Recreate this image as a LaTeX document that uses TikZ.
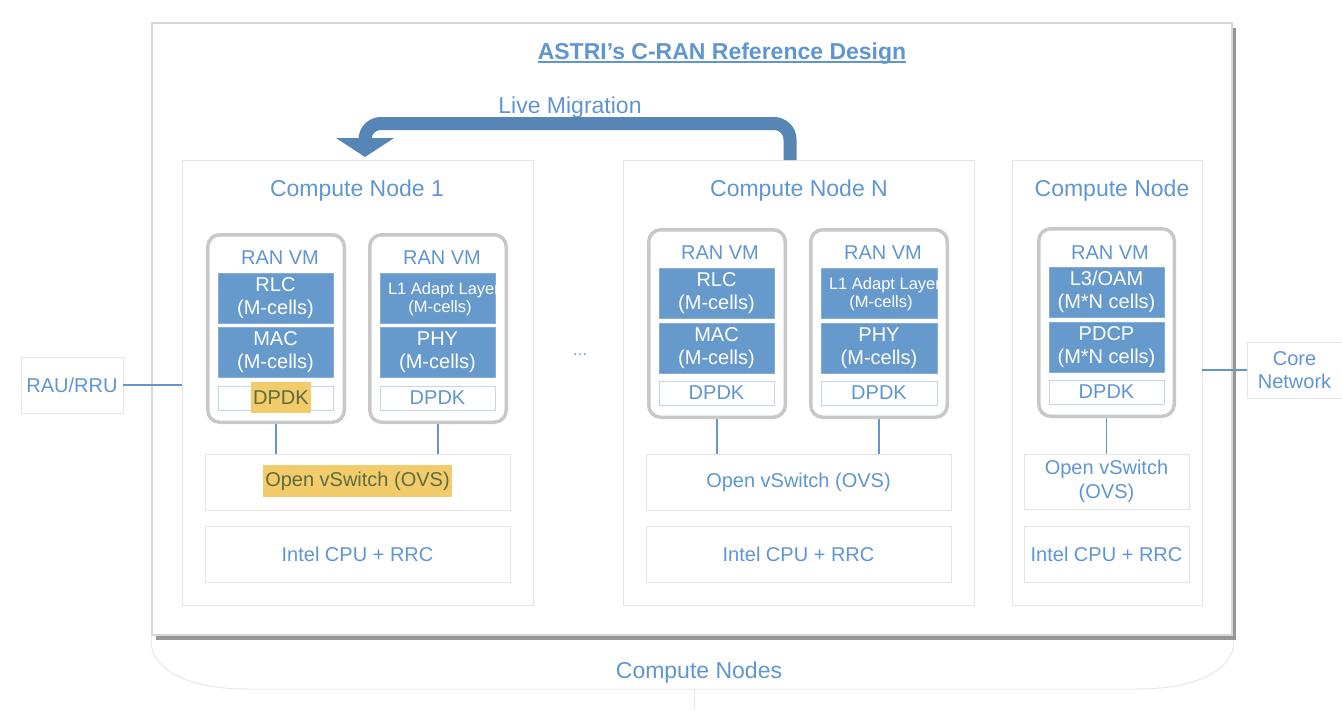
\documentclass[tikz,border=0pt]{standalone}
\usepackage{fontspec}
\setmainfont{Liberation Sans}
\definecolor{tblue}{RGB}{95,150,210}
\definecolor{lblue}{RGB}{102,153,204}
\definecolor{arrowblue}{RGB}{87,133,181}
\definecolor{ngray}{RGB}{228,228,228}
\definecolor{vgray}{RGB}{200,200,200}
\definecolor{dborder}{RGB}{195,212,235}
\definecolor{cblue}{RGB}{100,150,205}
\definecolor{hyellow}{RGB}{242,204,106}
\definecolor{holive}{RGB}{94,108,62}
\definecolor{fgray}{RGB}{215,215,215}
\definecolor{shadowgray}{RGB}{150,150,150}
\definecolor{curvegray}{RGB}{230,230,230}
\begin{document}
\begin{tikzpicture}[x=1pt,y=-1pt,
  every node/.style={inner sep=0pt, outer sep=0pt},
  fbig/.style={font=\fontsize{23}{27}\selectfont},
  fmid/.style={font=\fontsize{20}{23.5}\selectfont},
  fsmall/.style={font=\fontsize{16.5}{19.5}\selectfont},
  lbl/.style={text=tblue},
  nodebox/.style={draw=ngray, line width=1, fill=white, text=tblue, fmid},
  vmbox/.style={draw=vgray, line width=3.5, rounded corners=12, outer sep=1.75},
  layer/.style={fill=lblue, draw=lblue!80!white, line width=0.8, text=white, align=center, fmid, minimum width=115, minimum height=50},
  dpdk/.style={draw=dborder, line width=1, fill=white, text=tblue, fmid, minimum width=115, minimum height=24},
  conn/.style={draw=cblue, line width=1.5},
  hl/.style={fill=hyellow, text=holive, fmid}
]
\useasboundingbox (0,0) rectangle (1342,710);

% bottom curved group shape
\draw[curvegray, line width=1] (151,636) -- (151,641) .. controls (151,670) and (190,689) .. (246,689) -- (1138,689) .. controls (1196,689) and (1234,670) .. (1234,641);
\coordinate (grpS) at (694,689);
\coordinate (grpE) at (694,710);
\draw[curvegray, line width=1] (grpS) -- (grpE);
\node[lbl, fbig, anchor=base] (cnodes) at (699,678) {Compute Nodes};

% outer frame with shadow
\fill[shadowgray] (156,28) rectangle (1236,640);
\node[draw=fgray, line width=1.2, fill=white, minimum width=1080, minimum height=612] (frame) at (692,329) {};

% title
\node[lbl, font=\fontsize{23}{27}\selectfont\bfseries, anchor=base] (title) at (722,59) {ASTRI’s C-RAN Reference Design};
\draw[tblue, line width=1.5] ([yshift=-3]title.base west) -- ([yshift=-3]title.base east);

\node[lbl, fbig, anchor=base] (live) at (570,113) {Live Migration};

% compute node boxes
\node[nodebox, minimum width=351, minimum height=445] (cn1) at (357.5,382.5) {};
\node[nodebox, minimum width=351, minimum height=445] (cnN) at (798.5,382.5) {};
\node[nodebox, minimum width=190, minimum height=445] (cnR) at (1107,382.5) {};
\node[lbl, fbig, anchor=base] (t1) at (357,196) {Compute Node 1};
\node[lbl, fbig, anchor=base] (tN) at (799,196) {Compute Node N};
\node[lbl, fbig, anchor=base] (tR) at (1112,196) {Compute Node};

% live migration arrow
\coordinate (mA) at (790,160);
\coordinate (mB) at (790,123.5);
\coordinate (mC) at (365,123.5);
\coordinate (mD) at (365,139);
\draw[arrowblue, line width=13, rounded corners=16] (mA) -- (mB) -- (mC) -- (mD);
\fill[arrowblue] (336,138) -- (394,138) -- (365,157) -- cycle;

% ===== Compute Node 1 =====
\node[vmbox, minimum width=136.5, minimum height=187.5] (vm11) at (276,328.5) {};
\node[vmbox, minimum width=136.5, minimum height=187.5] (vm12) at (438,328.5) {};
\node[lbl, fmid, anchor=base] at (280,264) {RAN VM};
\node[lbl, fmid, anchor=base] at (442,264) {RAN VM};
\node[layer] (rlc1) at (275.5,298) {RLC\\(M-cells)};
\node[layer] (mac1) at (275.5,352) {MAC\\(M-cells)};
\node[dpdk] (dp11) at (275.5,398) {};
\node[hl, minimum width=60, minimum height=31] (hl11) at (281,397.5) {DPDK};
\node[layer] (l1a1) at (437.5,298) {};
\begin{scope}
\clip (380,273) rectangle (495,323);
\node[text=white, fsmall, anchor=base west] at (388,294) {L1 Adapt Layer};
\end{scope}
\node[text=white, fsmall] at (440,308) {(M-cells)};
\node[layer] (phy1) at (437.5,352) {PHY\\(M-cells)};
\node[dpdk] (dp12) at (437.5,398) {DPDK};
\node[nodebox, minimum width=305, minimum height=56] (ovs1) at (357.5,482) {};
\node[hl, minimum width=189, minimum height=32] (hlovs) at (357.5,481) {Open vSwitch (OVS)};
\node[nodebox, minimum width=305, minimum height=56] (cpu1) at (357.5,554) {Intel CPU + RRC};
\draw[conn] (vm11.south) -- (vm11.south |- ovs1.north);
\draw[conn] (vm12.south) -- (vm12.south |- ovs1.north);

% ===== Compute Node N =====
\node[vmbox, minimum width=136.5, minimum height=187.5] (vmN1) at (717,323.5) {};
\node[vmbox, minimum width=136.5, minimum height=187.5] (vmN2) at (879,323.5) {};
\node[lbl, fmid, anchor=base] at (720,259) {RAN VM};
\node[lbl, fmid, anchor=base] at (883,259) {RAN VM};
\node[layer] (rlcN) at (716.5,293) {RLC\\(M-cells)};
\node[layer] (macN) at (716.5,348) {MAC\\(M-cells)};
\node[dpdk] (dpN1) at (716.5,393) {DPDK};
\node[layer, minimum width=116] (l1aN) at (879,293) {};
\begin{scope}
\clip (821,268) rectangle (937,318);
\node[text=white, fsmall, anchor=base west] at (829,289) {L1 Adapt Layer};
\end{scope}
\node[text=white, fsmall] at (881,303) {(M-cells)};
\node[layer, minimum width=116] (phyN) at (879,348) {PHY\\(M-cells)};
\node[dpdk, minimum width=116] (dpN2) at (879,393) {DPDK};
\node[nodebox, minimum width=305, minimum height=56] (ovsN) at (798.5,482) {Open vSwitch (OVS)};
\node[nodebox, minimum width=305, minimum height=56] (cpuN) at (798.5,554) {Intel CPU + RRC};
\draw[conn] (vmN1.south) -- (vmN1.south |- ovsN.north);
\draw[conn] (vmN2.south) -- (vmN2.south |- ovsN.north);

\node[lbl, font=\fontsize{15}{18}\selectfont] (dots) at (580,355) {…};

% ===== Compute Node (right) =====
\node[vmbox, minimum width=135.5, minimum height=187.5] (vmR) at (1106.5,322.5) {};
\node[lbl, fmid, anchor=base] at (1110,259) {RAN VM};
\node[layer] (l3) at (1106.5,292) {L3/OAM\\(M*N cells)};
\node[layer] (pdcp) at (1106.5,347) {PDCP\\(M*N cells)};
\node[dpdk] (dpR) at (1106.5,392) {DPDK};
\node[nodebox, minimum width=165, minimum height=55, align=center] (ovsR) at (1106.5,481.5) {Open vSwitch\\(OVS)};
\node[nodebox, minimum width=165, minimum height=56] (cpuR) at (1106.5,554) {Intel CPU + RRC};
\draw[conn] (vmR.south) -- (vmR.south |- ovsR.north);

% ===== external =====
\node[nodebox, minimum width=102, minimum height=56] (rau) at (72,385) {RAU/RRU};
\draw[conn] (rau.east) -- (cn1.west |- rau.east);
\node[nodebox, minimum width=95, minimum height=56, align=center] (core) at (1294.5,370) {Core\\Network};
\draw[conn] (cnR.east |- core.west) -- (core.west);
\end{tikzpicture}
\end{document}
